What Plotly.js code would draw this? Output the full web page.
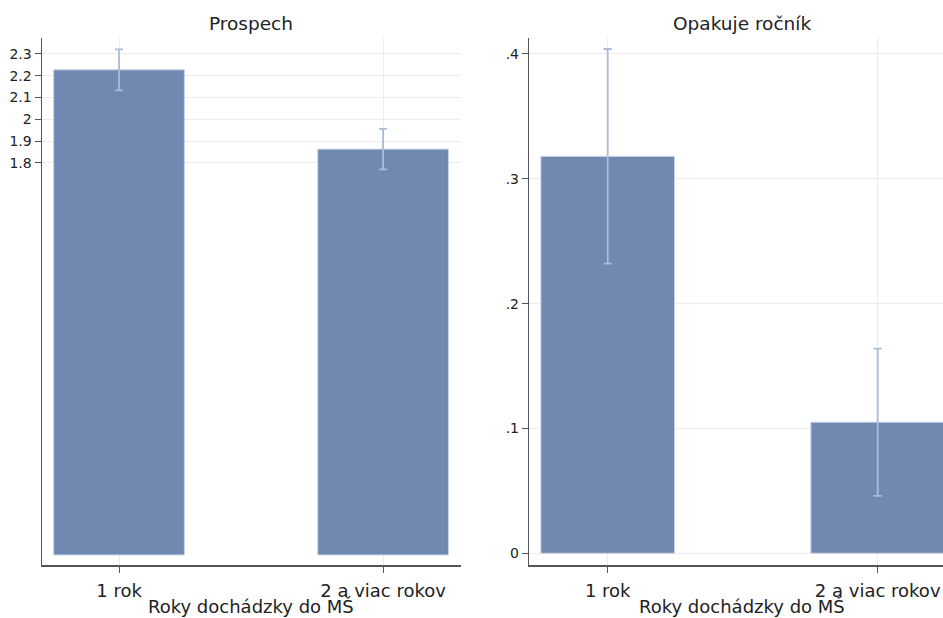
<!DOCTYPE html>
<html>
<head>
<meta charset="utf-8">
<script src="https://cdn.plot.ly/plotly-3.0.1.min.js"></script>
<style>html,body{margin:0;padding:0;background:#fff;}#chart{width:943px;height:618px;}</style>
</head>
<body>
<div id="chart"></div>
<script>
const categories = ['1 rok', '2 a viac rokov'];
const prospechMean = [2.227, 1.863];
const prospechCI = [0.094, 0.093];
const opakujeMean = [0.318, 0.105];
const opakujeCI = [0.086, 0.059];
const prospechTickVals = [1.8, 1.9, 2, 2.1, 2.2, 2.3];
const prospechTickText = ['1.8', '1.9', '2', '2.1', '2.2', '2.3'];
const opakujeTickVals = [0, 0.1, 0.2, 0.3, 0.4];
const opakujeTickText = ['0', '.1', '.2', '.3', '.4'];
const panelTitles = ['Prospech', 'Opakuje ročník'];
const xTitle = 'Roky dochádzky do MŠ';

const W = 943, H = 618;
const barColor = '#7189b0';
const errColor = '#a9bbd9';
const fontFam = 'DejaVu Sans, sans-serif';

function barTrace(y, err, xa, ya) {
  return {
    type: 'bar', x: categories, y: y, xaxis: xa, yaxis: ya, width: 0.495,
    marker: {color: barColor, line: {color: '#c9d4e6', width: 1}},
    error_y: {type: 'data', array: err, visible: true, color: errColor, thickness: 1.8, width: 4},
    hoverinfo: 'none', showlegend: false
  };
}

const data = [
  barTrace(prospechMean, prospechCI, 'x', 'y'),
  barTrace(opakujeMean, opakujeCI, 'x2', 'y2')
];

const yDom = [1 - 565 / H, 1 - 38 / H];
const common = {
  showline: true, linecolor: '#555', linewidth: 1.5,
  ticks: 'outside', ticklen: 6, tickcolor: '#555', tickwidth: 1,
  showgrid: true, gridcolor: '#ececec', gridwidth: 1, zeroline: false,
  fixedrange: true
};

const layout = {
  width: W, height: H,
  margin: {l: 0, r: 0, t: 0, b: 0},
  paper_bgcolor: '#fff', plot_bgcolor: '#fff',
  font: {family: fontFam, color: '#222'},
  bargap: 0,
  xaxis: Object.assign({}, common, {
    domain: [42 / W, 461 / W], range: [-0.2917, 1.295], type: 'category',
    tickfont: {size: 18, family: fontFam, color: '#222'}, anchor: 'y', ticklabelstandoff: 3
  }),
  yaxis: Object.assign({}, common, {
    domain: yDom, range: [-0.046, 2.373], tickvals: prospechTickVals, ticktext: prospechTickText,
    tickfont: {size: 14, family: fontFam, color: '#222'}, anchor: 'x'
  }),
  xaxis2: Object.assign({}, common, {
    domain: [529.3 / W, 1], range: [-0.2904, 1.2419], type: 'category',
    tickfont: {size: 18, family: fontFam, color: '#222'}, anchor: 'y2', ticklabelstandoff: 3
  }),
  yaxis2: Object.assign({}, common, {
    domain: yDom, range: [-0.0094, 0.4128], tickvals: opakujeTickVals, ticktext: opakujeTickText,
    tickfont: {size: 14, family: fontFam, color: '#222'}, anchor: 'x2'
  }),
  annotations: [
    {text: panelTitles[0], xref: 'paper', yref: 'paper', x: 251.5 / W, y: 1 - 24 / H, xanchor: 'center', yanchor: 'middle', showarrow: false, font: {size: 18.5, family: fontFam, color: '#222'}},
    {text: panelTitles[1], xref: 'paper', yref: 'paper', x: 742 / W, y: 1 - 24 / H, xanchor: 'center', yanchor: 'middle', showarrow: false, font: {size: 18.5, family: fontFam, color: '#222'}},
    {text: xTitle, xref: 'paper', yref: 'paper', x: 251 / W, y: 1 - 606 / H, xanchor: 'center', yanchor: 'middle', showarrow: false, font: {size: 18, family: fontFam, color: '#222'}},
    {text: xTitle, xref: 'paper', yref: 'paper', x: 742 / W, y: 1 - 606 / H, xanchor: 'center', yanchor: 'middle', showarrow: false, font: {size: 18, family: fontFam, color: '#222'}}
  ]
};

Plotly.newPlot('chart', data, layout, {staticPlot: true, displayModeBar: false});
</script>
</body>
</html>
